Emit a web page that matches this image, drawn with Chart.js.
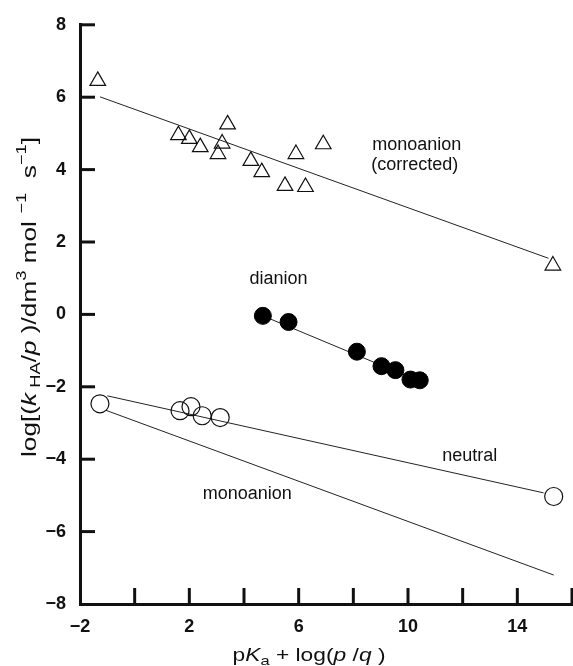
<!DOCTYPE html>
<html>
<head>
<meta charset="utf-8">
<script src="https://cdn.jsdelivr.net/npm/chart.js@4/dist/chart.umd.min.js"></script>
<style>
  html, body { margin: 0; padding: 0; background: #fff; }
  #wrap { width: 573px; height: 666px; position: relative; }
</style>
</head>
<body>
<div id="wrap"><canvas id="chart"></canvas></div>
<script>
// monoanion (corrected) - open triangles
const correctedX = [-1.35, 1.6, 2.0, 2.4, 3.05, 3.2, 3.4, 4.25, 4.65, 5.5, 6.25, 5.9, 6.9, 15.3];
const correctedY = [6.45, 4.95, 4.85, 4.62, 4.43, 4.72, 5.25, 4.24, 3.93, 3.55, 3.52, 4.43, 4.7, 1.35];
// dianion - filled circles
const dianionX = [4.69, 5.63, 8.13, 9.03, 9.54, 10.09, 10.43];
const dianionY = [-0.04, -0.21, -1.03, -1.43, -1.54, -1.8, -1.82];
// neutral - open circles
const neutralX = [-1.27, 1.66, 2.06, 2.47, 3.13, 15.33];
const neutralY = [-2.47, -2.66, -2.55, -2.8, -2.85, -5.03];

// fitted lines (end points)
const correctedFitX = [-1.27, 15.14];
const correctedFitY = [6.01, 1.55];
const dianionFitX = [4.69, 10.43];
const dianionFitY = [-0.04, -1.85];
const neutralFitX = [-1.0, 14.96];
const neutralFitY = [-2.25, -4.93];
const monoanionFitX = [-1.05, 15.33];
const monoanionFitY = [-2.65, -7.2];

const xLabelled = [-2, 2, 6, 10, 14];

const FONT = '"Liberation Sans", Arial, Helvetica, sans-serif';
const INK = '#111';

const pts = (xs, ys) => xs.map((x, i) => ({ x: x, y: ys[i] }));
const fmt = v => (v < 0 ? '\u2212' + Math.abs(v) : String(v));

// draws a line of mixed styled text centred on (x, y), stretched to width w
function drawRich(ctx, parts, x, y, size, w) {
    const fontFor = st => {
        const small = st === 'sub' || st === 'sup';
        return (st === 'i' ? 'italic ' : '') + (small ? Math.round(size * 0.72) : size) + 'px ' + FONT;
    };
    let total = 0;
    parts.forEach(p => { ctx.font = fontFor(p[1]); p.w = ctx.measureText(p[0]).width; total += p.w; });
    const sx = w ? w / total : 1;
    ctx.save();
    ctx.translate(x, y);
    ctx.scale(sx, 1);
    ctx.textBaseline = 'middle';
    ctx.textAlign = 'left';
    ctx.fillStyle = INK;
    let cx = -total / 2;
    parts.forEach(p => {
        ctx.font = fontFor(p[1]);
        let dy = 0;
        if (p[1] === 'sub') dy = size * 0.3;
        if (p[1] === 'sup') dy = -size * 0.38;
        ctx.fillText(p[0], cx, dy);
        cx += p.w;
    });
    ctx.restore();
}

const decorations = {
    id: 'decorations',
    afterDraw(chart) {
        const { ctx, chartArea, scales: { x, y } } = chart;
        ctx.save();
        ctx.strokeStyle = INK;
        ctx.lineWidth = 3;
        x.ticks.forEach(t => {
            if (t.value === x.min) return;
            const px = x.getPixelForValue(t.value);
            ctx.beginPath();
            ctx.moveTo(px, chartArea.bottom);
            ctx.lineTo(px, chartArea.bottom - 16);
            ctx.stroke();
        });
        y.ticks.forEach(t => {
            if (t.value === y.min) return;
            const py = y.getPixelForValue(t.value);
            ctx.beginPath();
            ctx.moveTo(chartArea.left, py);
            ctx.lineTo(chartArea.left + 15, py);
            ctx.stroke();
        });
        ctx.restore();

        // series labels
        ctx.save();
        ctx.fillStyle = INK;
        ctx.font = '18px ' + FONT;
        ctx.textAlign = 'center';
        ctx.textBaseline = 'middle';
        const label = (txt, vx, vy) => ctx.fillText(txt, x.getPixelForValue(vx), y.getPixelForValue(vy));
        label('monoanion', 10.32, 4.67);
        label('(corrected)', 10.25, 4.12);
        label('dianion', 5.26, 0.99);
        label('neutral', 12.26, -3.9);
        label('monoanion', 4.12, -4.95);
        ctx.restore();

        // axis titles
        drawRich(ctx, [['p', ''], ['K', 'i'], ['a', 'sub'], [' + log(', ''], ['p', 'i'], [' /', ''], ['q', 'i'], [' )', '']],
            309, 656, 18, 153);
        ctx.save();
        ctx.translate(30, 297);
        ctx.rotate(-Math.PI / 2);
        drawRich(ctx, [['log[(', ''], ['k', 'i'], [' HA', 'sub'], ['/', ''], ['p', 'i'], [' )/dm', ''], ['3', 'sup'],
            [' mol ', ''], ['\u22121', 'sup'], ['  s', ''], ['\u22121', 'sup'], [']', '']], 0, 0, 20, 320);
        ctx.restore();
    }
};

new Chart(document.getElementById('chart'), {
    type: 'scatter',
    data: {
        datasets: [
            {
                data: pts(correctedX, correctedY),
                pointStyle: 'triangle', pointRadius: 9,
                backgroundColor: 'rgba(255,255,255,0)', borderColor: INK, borderWidth: 1.2
            },
            {
                data: pts(correctedFitX, correctedFitY), showLine: true,
                pointRadius: 0, borderColor: '#222', borderWidth: 1
            },
            {
                data: pts(dianionX, dianionY),
                pointStyle: 'circle', pointRadius: 8.5,
                backgroundColor: '#000', borderColor: '#000', borderWidth: 1
            },
            {
                data: pts(dianionFitX, dianionFitY), showLine: true,
                pointRadius: 0, borderColor: '#222', borderWidth: 1
            },
            {
                data: pts(neutralX, neutralY),
                pointStyle: 'circle', pointRadius: 9,
                backgroundColor: 'rgba(255,255,255,0)', borderColor: INK, borderWidth: 1.2
            },
            {
                data: pts(neutralFitX, neutralFitY), showLine: true,
                pointRadius: 0, borderColor: '#222', borderWidth: 1
            },
            {
                data: pts(monoanionFitX, monoanionFitY), showLine: true,
                pointRadius: 0, borderColor: '#222', borderWidth: 1
            }
        ]
    },
    options: {
        responsive: true,
        maintainAspectRatio: false,
        animation: false,
        layout: { autoPadding: false, padding: { top: 22, right: 1, left: 0, bottom: 0 } },
        plugins: {
            legend: { display: false },
            tooltip: { enabled: false }
        },
        scales: {
            x: {
                type: 'linear', min: -2, max: 16,
                afterFit: s => { s.height = 62; s.paddingLeft = 0; s.paddingRight = 0; },
                grid: { display: false, drawTicks: false },
                border: { display: true, width: 3, color: INK },
                ticks: {
                    stepSize: 2, padding: 12, color: INK, maxRotation: 0, autoSkip: false,
                    font: { family: FONT, size: 18, weight: 'bold' },
                    callback: v => (xLabelled.includes(v) ? fmt(v) : '')
                }
            },
            y: {
                type: 'linear', min: -8, max: 8,
                afterFit: s => { s.width = 80; },
                grid: { display: false, drawTicks: false },
                border: { display: true, width: 3, color: INK },
                ticks: {
                    stepSize: 2, padding: 14, color: INK, autoSkip: false,
                    font: { family: FONT, size: 18, weight: 'bold' },
                    callback: v => fmt(v)
                }
            }
        }
    },
    plugins: [decorations]
});
</script>
</body>
</html>
